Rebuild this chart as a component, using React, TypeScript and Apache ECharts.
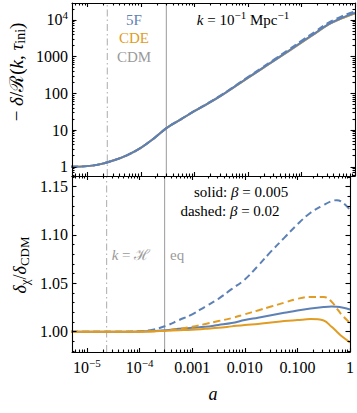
import React, { useEffect, useRef } from 'react';
import * as echarts from 'echarts';

// ---------- data ----------
const scaleFactor = [5e-6, 1e-5, 1.78e-5, 3.16e-5, 5.62e-5, 1e-4, 1.78e-4, 3.16e-4, 5.62e-4, 1e-3, 1.78e-3, 3.16e-3, 5.62e-3, 0.01, 0.0178, 0.0316, 0.0562, 0.1, 0.178, 0.316, 0.447, 0.562, 0.708, 1];

const growthCDM = [1.0, 1.04, 1.18, 1.5, 2.08, 3.27, 6.0, 11.8, 19.5, 32.5, 52, 86, 150, 262, 454, 789, 1370, 2410, 4200, 7380, 9450, 10960, 12540, 15200];
const growthCDE = [1.0, 1.04, 1.18, 1.5, 2.08, 3.27, 6.0, 11.81, 19.53, 32.57, 52.16, 86.34, 150.8, 263.8, 457.6, 796.5, 1385, 2439, 4255, 7465, 9497, 10960, 12477, 15033];
const growth5F = [1.0, 1.04, 1.18, 1.5, 2.08, 3.27, 6.0, 11.82, 19.56, 32.63, 52.26, 86.6, 151.4, 265.1, 460.6, 802.4, 1397, 2463, 4301, 7568, 9696, 11243, 12854, 15550];
const growth5FDashed = [1.0, 1.04, 1.18, 1.5, 2.08, 3.27, 6.01, 11.87, 19.73, 33.09, 53.35, 88.92, 156.6, 276.1, 484.9, 854.5, 1503, 2678, 4717, 8347, 10726, 12451, 14220, 17115];

const ratio5F = [1, 1, 1, 1, 1, 1.0002, 1.0007, 1.0015, 1.003, 1.004, 1.005, 1.007, 1.009, 1.012, 1.0145, 1.017, 1.0195, 1.022, 1.024, 1.0255, 1.026, 1.0258, 1.025, 1.023];
const ratio5FDashed = [1, 1, 1, 1, 1, 1.0005, 1.002, 1.006, 1.012, 1.018, 1.026, 1.034, 1.044, 1.054, 1.068, 1.083, 1.097, 1.111, 1.123, 1.131, 1.135, 1.136, 1.134, 1.126];
const ratioCDE = [1, 1, 1, 1, 1, 1, 1.0003, 1.001, 1.0015, 1.002, 1.003, 1.004, 1.0055, 1.007, 1.008, 1.0095, 1.011, 1.012, 1.013, 1.0115, 1.005, 1.0, 0.995, 0.989];
const ratioCDEDashed = [1, 1, 1, 1, 1, 1.0002, 1.0005, 1.001, 1.003, 1.005, 1.008, 1.011, 1.014, 1.018, 1.022, 1.026, 1.03, 1.034, 1.036, 1.036, 1.031, 1.024, 1.017, 1.009];

const xTickValues = [1e-5, 1e-4, 1e-3, 1e-2, 1e-1, 1];
const xTickLabels = ['{b|10}{s|−5}', '{b|10}{s|−4}', '{b|0.001}', '{b|0.010}', '{b|0.100}', '{b|1}'];
const yTopTickValues = [1, 10, 100, 1000, 10000];
const yTopTickLabels = ['{b|1}', '{b|10}', '{b|100}', '{b|1000}', '{b|10}{s|4}'];
const yBotTickValues = [1.0, 1.05, 1.1, 1.15];
const yBotTickLabels = ['1.00', '1.05', '1.10', '1.15'];

const kHorizonA = 2.37e-5;
const equalityA = 3.0e-4;

// ---------- style ----------
const FONT = 'Liberation Serif, serif';
const BLUE = '#5E81B5';
const ORANGE = '#E19C24';
const GRAY = '#9A9A9A';

const X_MIN = 5.2e-6;
const X_MAX = 1;
const YT_MIN = 0.56;
const YT_MAX = 28800;
const YB_MIN = 0.979;
const YB_MAX = 1.161;

const zip = (xs: number[], ys: number[]) => xs.map((x, i) => [x, ys[i]]);

function minorLog(min: number, max: number) {
  const out: number[] = [];
  for (let e = Math.floor(Math.log10(min)); e <= Math.ceil(Math.log10(max)); e++) {
    for (let k = 2; k <= 9; k++) {
      const v = k * Math.pow(10, e);
      if (v > min && v < max) out.push(Math.log10(v));
    }
  }
  return out;
}

const labelRich = {
  b: { fontFamily: FONT, fontSize: 16, lineHeight: 20, color: '#000' },
  s: { fontFamily: FONT, fontSize: 11, lineHeight: 11, verticalAlign: 'top', color: '#000' },
};

const black = { color: '#000', width: 1.1 };

function deco(gridIndex: number, position: string, min: number, max: number, ticks: number[], len: number, showLine: boolean, label?: any) {
  return {
    type: 'value',
    gridIndex,
    position,
    min,
    max,
    axisLine: { show: showLine, onZero: false, lineStyle: black },
    axisTick: { show: true, inside: true, length: len, customValues: ticks, lineStyle: black },
    axisLabel: label ? label : { show: false },
    splitLine: { show: false },
    minorTick: { show: false },
    z: 5,
  };
}

const logIdx = (vals: number[]) => (v: number) => vals.findIndex((t) => Math.abs(Math.log10(t) - v) < 1e-6);

const xLogMin = Math.log10(X_MIN);
const xLogMax = Math.log10(X_MAX);
const yLogMin = Math.log10(YT_MIN);
const yLogMax = Math.log10(YT_MAX);
const xMajorLog = xTickValues.map((v) => Math.log10(v));
const xMinorLog = minorLog(X_MIN, X_MAX);
const yTopMajorLog = yTopTickValues.map((v) => Math.log10(v));
const yTopMinorLog = minorLog(YT_MIN, YT_MAX);
const yBotMinor: number[] = [];
for (let i = 98; i <= 116; i++) if (i % 5 !== 0) yBotMinor.push(i / 100);

const xLabelIdx = logIdx(xTickValues);
const yTopLabelIdx = logIdx(yTopTickValues);

const xAxes = [
  // grid 0
  { type: 'log', gridIndex: 0, min: X_MIN, max: X_MAX, show: false },
  deco(0, 'bottom', xLogMin, xLogMax, xMajorLog, 4, true),
  deco(0, 'bottom', xLogMin, xLogMax, xMinorLog, 2.5, false),
  deco(0, 'top', xLogMin, xLogMax, xMajorLog, 4, true),
  deco(0, 'top', xLogMin, xLogMax, xMinorLog, 2.5, false),
  // grid 1
  { type: 'log', gridIndex: 1, min: X_MIN, max: X_MAX, show: false },
  deco(1, 'bottom', xLogMin, xLogMax, xMajorLog, 4, true, {
    show: true,
    customValues: xMajorLog,
    margin: 5,
    color: '#000',
    fontFamily: FONT,
    fontSize: 16,
    rich: labelRich,
    formatter: (v: number) => {
      const i = xLabelIdx(v);
      return i >= 0 ? xTickLabels[i] : '';
    },
  }),
  deco(1, 'bottom', xLogMin, xLogMax, xMinorLog, 2.5, false),
  deco(1, 'top', xLogMin, xLogMax, xMajorLog, 4, true),
  deco(1, 'top', xLogMin, xLogMax, xMinorLog, 2.5, false),
];

const yAxes = [
  // grid 0
  { type: 'log', gridIndex: 0, min: YT_MIN, max: YT_MAX, show: false },
  deco(0, 'left', yLogMin, yLogMax, yTopMajorLog, 4.5, true, {
    show: true,
    customValues: yTopMajorLog,
    margin: 4,
    color: '#000',
    fontFamily: FONT,
    fontSize: 16,
    rich: labelRich,
    formatter: (v: number) => {
      const i = yTopLabelIdx(v);
      return i >= 0 ? yTopTickLabels[i] : '';
    },
  }),
  deco(0, 'left', yLogMin, yLogMax, yTopMinorLog, 2.5, false),
  deco(0, 'right', yLogMin, yLogMax, yTopMajorLog, 4.5, true),
  deco(0, 'right', yLogMin, yLogMax, yTopMinorLog, 2.5, false),
  // grid 1
  {
    type: 'value',
    gridIndex: 1,
    position: 'left',
    min: YB_MIN,
    max: YB_MAX,
    axisLine: { show: true, onZero: false, lineStyle: black },
    axisTick: { show: true, inside: true, length: 4.5, customValues: yBotTickValues, lineStyle: black },
    axisLabel: {
      show: true,
      customValues: yBotTickValues,
      margin: 4,
      color: '#000',
      fontFamily: FONT,
      fontSize: 16,
      formatter: (v: number) => {
        const i = yBotTickValues.findIndex((t) => Math.abs(t - v) < 1e-6);
        return i >= 0 ? yBotTickLabels[i] : '';
      },
    },
    splitLine: { show: false },
    z: 5,
  },
  deco(1, 'left', YB_MIN, YB_MAX, yBotMinor, 2.5, false),
  deco(1, 'right', YB_MIN, YB_MAX, yBotTickValues, 4.5, true),
  deco(1, 'right', YB_MIN, YB_MAX, yBotMinor, 2.5, false),
];

function line(name: string, xi: number, yi: number, data: number[][], color: string, dash: any, width = 2, smooth: any = 0.4) {
  return {
    type: 'line',
    name,
    xAxisIndex: xi,
    yAxisIndex: yi,
    data,
    showSymbol: false,
    symbol: 'none',
    smooth,
    silent: true,
    lineStyle: { color, width, type: dash },
    emphasis: { disabled: true },
    z: 3,
  };
}

const DASH = [7, 4];
const DASHDOT = [7, 3, 1.5, 3];

const series = [
  // reference lines: horizon crossing (dash-dot) and matter-radiation equality (solid)
  line('k = H top', 0, 0, [[kHorizonA, YT_MIN], [kHorizonA, YT_MAX]], '#ABABAB', DASHDOT, 1, false),
  line('eq top', 0, 0, [[equalityA, YT_MIN], [equalityA, YT_MAX]], '#9A9A9A', 'solid', 1, false),
  line('k = H bottom', 5, 5, [[kHorizonA, YB_MIN], [kHorizonA, YB_MAX]], '#ABABAB', DASHDOT, 1, false),
  line('eq bottom', 5, 5, [[equalityA, YB_MIN], [equalityA, YB_MAX]], '#9A9A9A', 'solid', 1, false),
  // top panel
  line('CDM', 0, 0, zip(scaleFactor, growthCDM), GRAY, 'solid'),
  line('CDE', 0, 0, zip(scaleFactor, growthCDE), ORANGE, 'solid'),
  line('5F', 0, 0, zip(scaleFactor, growth5F), BLUE, 'solid'),
  line('5F β=0.02', 0, 0, zip(scaleFactor, growth5FDashed), BLUE, DASH),
  // bottom panel
  line('5F β=0.005 ratio', 5, 5, zip(scaleFactor, ratio5F), BLUE, 'solid'),
  line('5F β=0.02 ratio', 5, 5, zip(scaleFactor, ratio5FDashed), BLUE, DASH),
  line('CDE β=0.005 ratio', 5, 5, zip(scaleFactor, ratioCDE), ORANGE, 'solid'),
  line('CDE β=0.02 ratio', 5, 5, zip(scaleFactor, ratioCDEDashed), ORANGE, DASH),
];

const T = (size: number, extra: any = {}) => ({ fontFamily: FONT, fontSize: size, lineHeight: 22, ...extra });

function txt(x: number, y: number, text: string, size: number, fill: string, rich: any = {}, rotation = 0, align = 'center') {
  return {
    type: 'text',
    x,
    y,
    rotation,
    silent: true,
    style: {
      text,
      fill,
      fontFamily: FONT,
      fontSize: size,
      align,
      verticalAlign: 'middle',
      rich,
    },
  };
}

const baseRich = (size: number, fill: string) => ({
  r: T(size, { fill }),
  i: T(size, { fontStyle: 'italic', fill }),
  sup: { fontFamily: FONT, fontSize: Math.round(size * 0.7), lineHeight: 12, verticalAlign: 'top', fill },
  sub: { fontFamily: FONT, fontSize: Math.round(size * 0.72), lineHeight: 12, verticalAlign: 'bottom', fill },
});

const graphics = [
  txt(134, 20, '{r|5F}', 15, BLUE, baseRich(15, BLUE)),
  txt(134, 38, '{r|CDE}', 15, ORANGE, baseRich(15, ORANGE)),
  txt(134, 57, '{r|CDM}', 15, GRAY, baseRich(15, GRAY)),
  txt(243, 20, '{i|k}{r| = 10}{sup|−1}{r| Mpc}{sup|−1}', 15, '#000', baseRich(15, '#000')),
  txt(241, 192, '{r|solid: }{i|β}{r| = 0.005}', 15, '#000', baseRich(15, '#000')),
  txt(230, 211, '{r|dashed: }{i|β}{r| = 0.02}', 15, '#000', baseRich(15, '#000')),
  txt(131, 255, '{i|k}{r| = ℋ}', 15, GRAY, baseRich(15, GRAY)),
  txt(170, 255, '{r|eq}', 15, GRAY, baseRich(15, GRAY), 0, 'left'),
  txt(16, 72, '{r|− }{i|δ}{r|/ℛ(}{i|k}{r|, }{i|τ}{sub|ini}{r|)}', 19, '#000', baseRich(19, '#000'), Math.PI / 2),
  txt(20, 265, '{i|δ}{sub|χ}{r|/}{i|δ}{sub|CDM}', 18, '#000', baseRich(18, '#000'), Math.PI / 2),
  txt(213, 394, '{i|a}', 18, '#000', baseRich(18, '#000')),
];

const option = {
  animation: false,
  backgroundColor: '#fff',
  textStyle: { fontFamily: FONT },
  grid: [
    { left: 72, right: 2, top: 3, height: 173 },
    { left: 72, right: 2, top: 176, height: 176 },
  ],
  xAxis: xAxes,
  yAxis: yAxes,
  series,
  graphic: graphics,
};

export default function App() {
  const ref = useRef<HTMLDivElement>(null);
  useEffect(() => {
    const chart = echarts.init(ref.current!, null, { renderer: 'svg' });
    chart.setOption(option as any);
    return () => chart.dispose();
  }, []);
  return <div ref={ref} style={{ position: 'fixed', left: 0, top: 0, width: 357, height: 413, background: '#fff' }} />;
}
